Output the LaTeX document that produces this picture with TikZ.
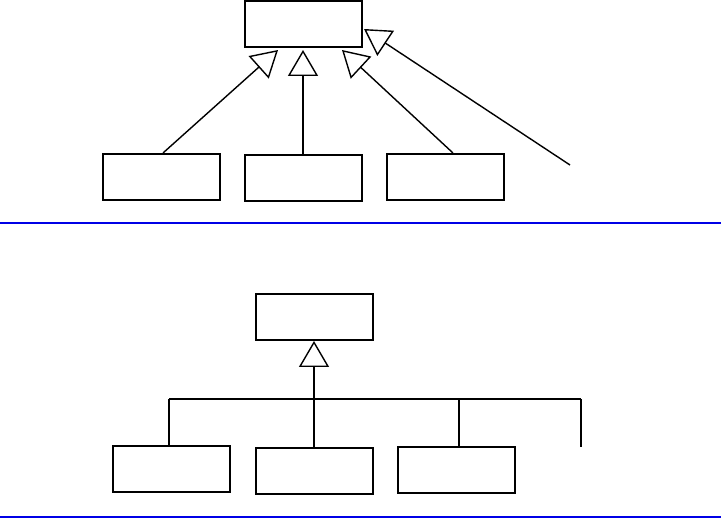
\documentclass[tikz,border=0pt]{standalone}
\usetikzlibrary{arrows.meta}
\begin{document}
\begin{tikzpicture}[x=1pt,y=-1pt,
  cls/.style={draw,line width=2pt,minimum width=117pt,minimum height=46pt,inner sep=0pt,fill=white},
  inh/.style={line width=1.4pt,-{Triangle[open,length=26pt,width=30pt,line width=1.4pt]}},
  tree/.style={line width=1.2pt},
  sep/.style={line width=2.2pt,color={rgb,255:red,0;green,0;blue,230}}]
\useasboundingbox (0,0) rectangle (721,518);
% top part
\node[cls] (p1) at (303,24.5) {};
\node[cls] (a1) at (161,177) {};
\node[cls] (a2) at (303,178.5) {};
\node[cls] (a3) at (445.5,177.5) {};
\coordinate (t1) at (278,50);
\coordinate (t2) at (303,50);
\coordinate (t3) at (342,50);
\coordinate (t4) at (364,29);
\coordinate (f4) at (570,165);
\draw[inh] (163,153) -- (t1);
\draw[inh] (a2.north) -- (t2);
\draw[inh] (453,153) -- (t3);
\draw[inh] (f4) -- (t4);
\draw[sep] (0,223) -- (721,223);
% bottom part
\node[cls] (q) at (314,317) {};
\node[cls] (b1) at (171,469) {};
\node[cls] (b2) at (314,471) {};
\node[cls] (b3) at (456,470) {};
\coordinate (j) at (314,399);
\coordinate (h1) at (169,399);
\coordinate (h3) at (459,399);
\coordinate (h4) at (581,399);
\coordinate (f5) at (581,447);
\draw[tree] (h1) -- (h4);
\draw[tree] (h1) -- (h1 |- b1.north);
\draw[tree] (h3) -- (h3 |- b3.north);
\draw[tree] (h4) -- (f5);
\draw[line width=1.8pt] (b2.north) -- (j);
\draw[inh,line width=1.8pt] (j) -- (q.south);
\draw[sep] (0,516.8) -- (721,516.8);
\end{tikzpicture}
\end{document}
